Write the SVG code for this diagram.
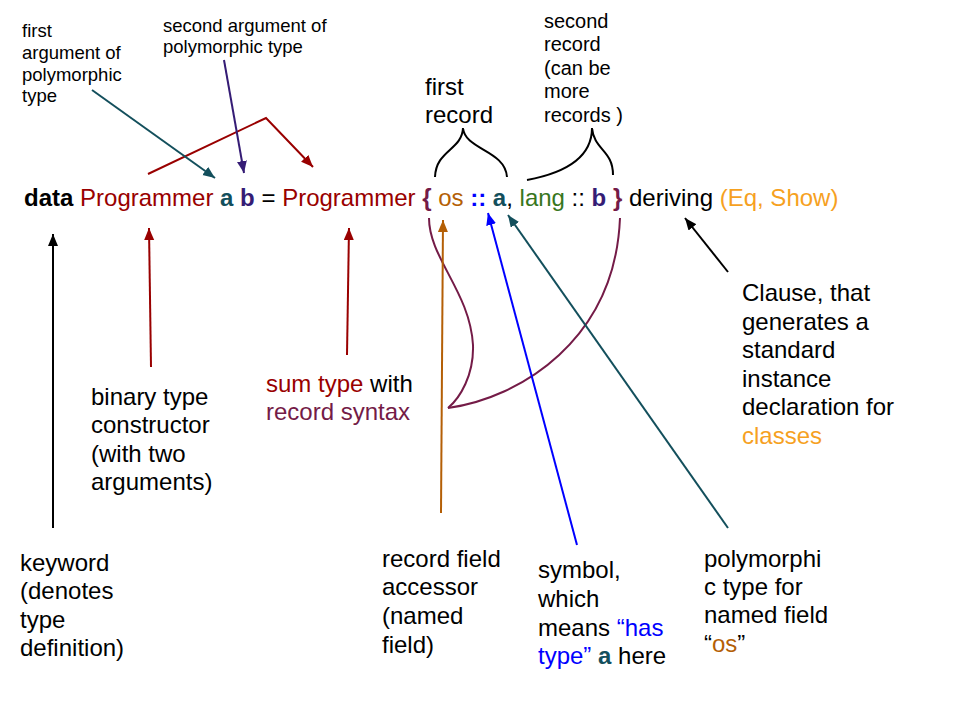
<svg xmlns="http://www.w3.org/2000/svg" width="960" height="720" viewBox="0 0 960 720">
<style>
text{font-family:"Liberation Sans",Arial,sans-serif;fill:#000}
.s{font-size:18.5px}
.m{font-size:20px}
.l{font-size:24px}
.b{font-weight:bold}
.red{fill:#990000}.teal{fill:#134f5c}.ind{fill:#351c75}.mag{fill:#741b47}.org{fill:#b45f06}.blu{fill:#0000ff}.grn{fill:#38761d}.lor{fill:#f6a11f}
.ln{fill:none;stroke-width:2}
</style>
<defs>
<marker id="ak" markerUnits="userSpaceOnUse" markerWidth="14" markerHeight="12" refX="12" refY="5" orient="auto"><path d="M0,0 L12,5 L0,10 z" fill="#000"/></marker>
<marker id="ar" markerUnits="userSpaceOnUse" markerWidth="14" markerHeight="12" refX="12" refY="5" orient="auto"><path d="M0,0 L12,5 L0,10 z" fill="#990000"/></marker>
<marker id="at" markerUnits="userSpaceOnUse" markerWidth="14" markerHeight="12" refX="12" refY="5" orient="auto"><path d="M0,0 L12,5 L0,10 z" fill="#134f5c"/></marker>
<marker id="ai" markerUnits="userSpaceOnUse" markerWidth="14" markerHeight="12" refX="12" refY="5" orient="auto"><path d="M0,0 L12,5 L0,10 z" fill="#351c75"/></marker>
<marker id="ao" markerUnits="userSpaceOnUse" markerWidth="14" markerHeight="12" refX="12" refY="5" orient="auto"><path d="M0,0 L12,5 L0,10 z" fill="#b45f06"/></marker>
<marker id="ab" markerUnits="userSpaceOnUse" markerWidth="14" markerHeight="12" refX="12" refY="5" orient="auto"><path d="M0,0 L12,5 L0,10 z" fill="#0000ff"/></marker>
</defs>

<g id="code">
<text class="l" x="24" y="206"><tspan class="b">data</tspan> <tspan class="red">Programmer</tspan> <tspan class="b teal">a</tspan> <tspan class="b ind">b</tspan> = <tspan class="red">Programmer</tspan> <tspan class="b mag">{</tspan> <tspan class="org">os</tspan> <tspan class="b blu">::</tspan> <tspan class="b teal">a</tspan>, <tspan class="grn">lang</tspan> :: <tspan class="b ind">b</tspan> <tspan class="b mag">}</tspan> deriving <tspan class="lor">(Eq, Show)</tspan></text>
</g>

<g id="label-first-arg">
<text class="s" x="22" y="37">first</text>
<text class="s" x="22" y="59">argument of</text>
<text class="s" x="22" y="81">polymorphic</text>
<text class="s" x="22" y="102">type</text>
</g>
<g id="label-second-arg">
<text class="s" x="163" y="32">second argument of</text>
<text class="s" x="163" y="53">polymorphic type</text>
</g>
<g id="label-first-record">
<text class="l" x="425" y="95">first</text>
<text class="l" x="425" y="123">record</text>
</g>
<g id="label-second-record">
<text class="m" x="544" y="28">second</text>
<text class="m" x="544" y="51">record</text>
<text class="m" x="544" y="75">(can be</text>
<text class="m" x="544" y="98">more</text>
<text class="m" x="544" y="122">records )</text>
</g>
<g id="label-binary">
<text class="l" x="91" y="405">binary type</text>
<text class="l" x="91" y="433">constructor</text>
<text class="l" x="91" y="462">(with two</text>
<text class="l" x="91" y="490">arguments)</text>
</g>
<g id="label-sum">
<text class="l" x="266" y="392"><tspan class="red">sum type</tspan> with</text>
<text class="l mag" x="266" y="420">record syntax</text>
</g>
<g id="label-clause">
<text class="l" x="742" y="301">Clause, that</text>
<text class="l" x="742" y="330">generates a</text>
<text class="l" x="742" y="358">standard</text>
<text class="l" x="742" y="387">instance</text>
<text class="l" x="742" y="415">declaration for</text>
<text class="l lor" x="742" y="444">classes</text>
</g>
<g id="label-keyword">
<text class="l" x="20" y="571">keyword</text>
<text class="l" x="20" y="599">(denotes</text>
<text class="l" x="20" y="628">type</text>
<text class="l" x="20" y="656">definition)</text>
</g>
<g id="label-accessor">
<text class="l" x="382" y="567">record field</text>
<text class="l" x="382" y="595">accessor</text>
<text class="l" x="382" y="624">(named</text>
<text class="l" x="382" y="653">field)</text>
</g>
<g id="label-symbol">
<text class="l" x="538" y="578">symbol,</text>
<text class="l" x="538" y="607">which</text>
<text class="l" x="538" y="636">means <tspan class="blu">“has</tspan></text>
<text class="l" x="538" y="664"><tspan class="blu">type”</tspan> <tspan class="b teal">a</tspan> here</text>
</g>
<g id="label-polymorphic">
<text class="l" x="704" y="567">polymorphi</text>
<text class="l" x="704" y="595">c type for</text>
<text class="l" x="704" y="623">named field</text>
<text class="l" x="704" y="652">“<tspan class="org">os</tspan>”</text>
</g>

<g id="connectors">
<polyline class="ln" stroke="#990000" points="148,174 266,118 313,167" marker-end="url(#ar)"/>
<line class="ln" stroke="#134f5c" x1="92" y1="90" x2="215" y2="178" marker-end="url(#at)"/>
<line class="ln" stroke="#351c75" x1="224" y1="60" x2="244" y2="173" marker-end="url(#ai)"/>
<path class="ln" stroke="#000" stroke-width="1.5" d="M435,177 C436,150 462,150 463,128 C465,150 505,150 507,177"/>
<path class="ln" stroke="#000" stroke-width="1.5" d="M527,180 C570,172 592,155 592,128 C594,150 613,150 613,175"/>
<line class="ln" stroke="#000" x1="53" y1="528" x2="53" y2="234" marker-end="url(#ak)"/>
<line class="ln" stroke="#990000" x1="151" y1="367" x2="149" y2="228" marker-end="url(#ar)"/>
<line class="ln" stroke="#990000" x1="347" y1="355" x2="349" y2="228" marker-end="url(#ar)"/>
<path class="ln" stroke="#741b47" d="M429,218 C429,258 470,292 473,345 C474,375 460,398 448,408"/>
<path class="ln" stroke="#741b47" d="M448,408 C520,398 615,340 620,218"/>
<line class="ln" stroke="#b45f06" x1="441" y1="513" x2="443" y2="220" marker-end="url(#ao)"/>
<line class="ln" stroke="#0000ff" x1="577" y1="545" x2="488" y2="213" marker-end="url(#ab)"/>
<line class="ln" stroke="#134f5c" x1="728" y1="528" x2="508" y2="215" marker-end="url(#at)"/>
<line class="ln" stroke="#000" x1="728" y1="272" x2="685" y2="218" marker-end="url(#ak)"/>
</g>
</svg>
